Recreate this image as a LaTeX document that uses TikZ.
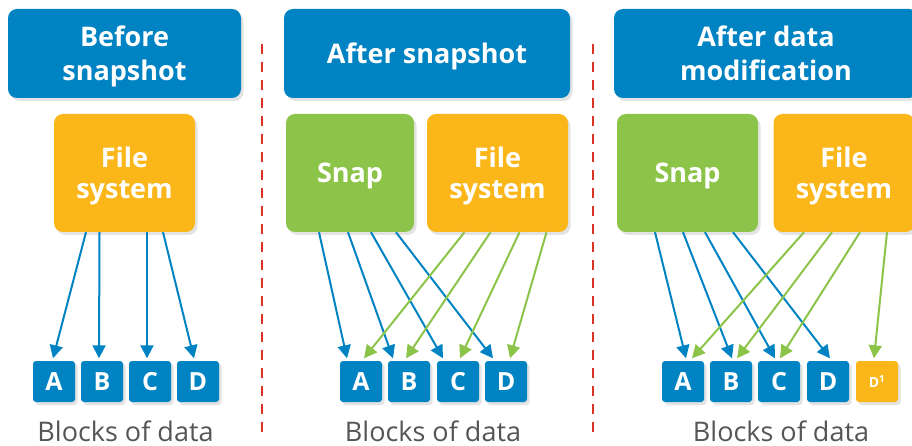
\documentclass[tikz,border=0pt]{standalone}
\usepackage{fontspec}
\setmainfont{Open Sans}
\usetikzlibrary{arrows.meta,shadows}
\definecolor{dblue}{RGB}{0,131,194}
\definecolor{dorange}{RGB}{251,182,26}
\definecolor{dgreen}{RGB}{139,196,72}
\definecolor{dred}{RGB}{218,52,38}
\definecolor{dgray}{RGB}{85,85,85}
\tikzset{
  boxshadow/.style={drop shadow={opacity=0.22,shadow xshift=2.5pt,shadow yshift=-3pt}},
  bigbox/.style={rounded corners=9pt,text=white,align=center,inner sep=0pt,
    text depth=0pt,boxshadow},
  header/.style={bigbox,fill=dblue,minimum height=89pt,
    font=\bfseries\fontsize{27}{34}\selectfont},
  snapbox/.style={bigbox,fill=dgreen,minimum width=128pt,minimum height=118pt,
    font=\bfseries\fontsize{27}{31}\selectfont},
  fsbox/.style={bigbox,fill=dorange,minimum width=141pt,minimum height=118pt,
    font=\bfseries\fontsize{27}{31}\selectfont},
  blk/.style={fill=dblue,rounded corners=3pt,minimum width=42pt,minimum height=41pt,
    inner sep=0pt,text=white,font=\bfseries\fontsize{25}{25}\selectfont,boxshadow},
  blkmod/.style={blk,fill=dorange,font=\bfseries\fontsize{14}{14}\selectfont},
  barrow/.style={draw=dblue,line width=2pt,-{Triangle[length=13pt,width=13pt]}},
  garrow/.style={barrow,draw=dgreen},
  sep/.style={draw=dred,line width=2.2pt,dash pattern=on 10pt off 8pt},
  caption/.style={text=dgray,font=\fontsize{27}{30}\selectfont,anchor=base,inner sep=0pt},
}
\begin{document}
\begin{tikzpicture}[x=1pt,y=-1pt]
\clip (0,0) rectangle (912,446);
\fill[white] (0,0) rectangle (912,446);

% separators between the three stages
\coordinate (s1t) at (262,44);  \coordinate (s1b) at (262,432);
\coordinate (s2t) at (593,44);  \coordinate (s2b) at (593,432);
\draw[sep] (s1t) -- (s1b);
\draw[sep] (s2t) -- (s2b);

% ---------- stage 1 ----------
\node[header,minimum width=233pt] (h1) at (124.5,53.5) {Before\\snapshot};
\node[fsbox] (fs1) at (124.5,173) {File\\system};
\node[blk] (a1) at (54,381.5) {A};
\node[blk] (b1) at (102,381.5) {B};
\node[blk] (c1) at (150,381.5) {C};
\node[blk] (d1) at (198,381.5) {D};
\draw[barrow] ([xshift=-38.5pt]fs1.south) -- ([xshift=-1pt,yshift=2.5pt]a1.north);
\draw[barrow] ([xshift=-25pt]fs1.south) -- ([xshift=-3pt,yshift=2.5pt]b1.north);
\draw[barrow] ([xshift=22.5pt]fs1.south) -- ([xshift=-3pt,yshift=2.5pt]c1.north);
\draw[barrow] ([xshift=38.5pt]fs1.south) -- ([xshift=-4pt,yshift=2.5pt]d1.north);
\node[caption] (cap1) at (125.5,441) {Blocks of data};

% ---------- stage 2 ----------
\node[header,minimum width=286pt] (h2) at (427,53.5) {After snapshot};
\node[snapbox] (sn2) at (350,173) {Snap};
\node[fsbox] (fs2) at (497.5,173) {File\\system};
\node[blk] (a2) at (361,381.5) {A};
\node[blk] (b2) at (409,381.5) {B};
\node[blk] (c2) at (458,381.5) {C};
\node[blk] (d2) at (506,381.5) {D};
\draw[barrow] ([xshift=-31pt]sn2.south) -- ([xshift=-14pt,yshift=2.5pt]a2.north);
\draw[barrow] ([xshift=-2pt]sn2.south) -- ([xshift=-16pt,yshift=2.5pt]b2.north);
\draw[barrow] ([xshift=21pt]sn2.south) -- ([xshift=-15pt,yshift=2.5pt]c2.north);
\draw[barrow] ([xshift=46pt]sn2.south) -- ([xshift=-13pt,yshift=2.5pt]d2.north);
\draw[garrow] ([xshift=-33pt]fs2.south) -- ([xshift=3pt,yshift=2.5pt]a2.north);
\draw[garrow] ([xshift=-7pt]fs2.south) -- ([xshift=-3pt,yshift=2.5pt]b2.north);
\draw[garrow] ([xshift=22pt]fs2.south) -- ([xshift=2pt,yshift=2.5pt]c2.north);
\draw[garrow] ([xshift=49pt]fs2.south) -- ([xshift=4pt,yshift=2.5pt]d2.north);
\node[caption] (cap2) at (433,441) {Blocks of data};

% ---------- stage 3 ----------
\node[header,minimum width=304pt] (h3) at (766,53.5) {After data\\modification};
\node[snapbox,minimum width=141pt] (sn3) at (687.5,173) {Snap};
\node[fsbox] (fs3) at (844,173) {File\\system};
\node[blk] (a3) at (683,381.5) {A};
\node[blk] (b3) at (731,381.5) {B};
\node[blk] (c3) at (779,381.5) {C};
\node[blk] (d3) at (828,381.5) {D};
\node[blkmod] (m3) at (877,381.5) {D\textsuperscript{1}};
\draw[barrow] ([xshift=-32.5pt]sn3.south) -- ([xshift=3pt,yshift=2.5pt]a3.north);
\draw[barrow] ([xshift=-4.5pt]sn3.south) -- ([xshift=1pt,yshift=2.5pt]b3.north);
\draw[barrow] ([xshift=17.5pt]sn3.south) -- ([xshift=-4pt,yshift=2.5pt]c3.north);
\draw[barrow] ([xshift=45.5pt]sn3.south) -- ([xshift=2pt,yshift=2.5pt]d3.north);
\draw[garrow] ([xshift=-40pt]fs3.south) -- ([xshift=9pt,yshift=2.5pt]a3.north);
\draw[garrow] ([xshift=-12pt]fs3.south) -- ([xshift=6pt,yshift=2.5pt]b3.north);
\draw[garrow] ([xshift=16pt]fs3.south) -- ([xshift=1pt,yshift=2.5pt]c3.north);
\draw[garrow] ([xshift=43pt]fs3.south) -- ([xshift=-3pt,yshift=2.5pt]m3.north);
\node[caption] (cap3) at (781,441) {Blocks of data};
\end{tikzpicture}
\end{document}
